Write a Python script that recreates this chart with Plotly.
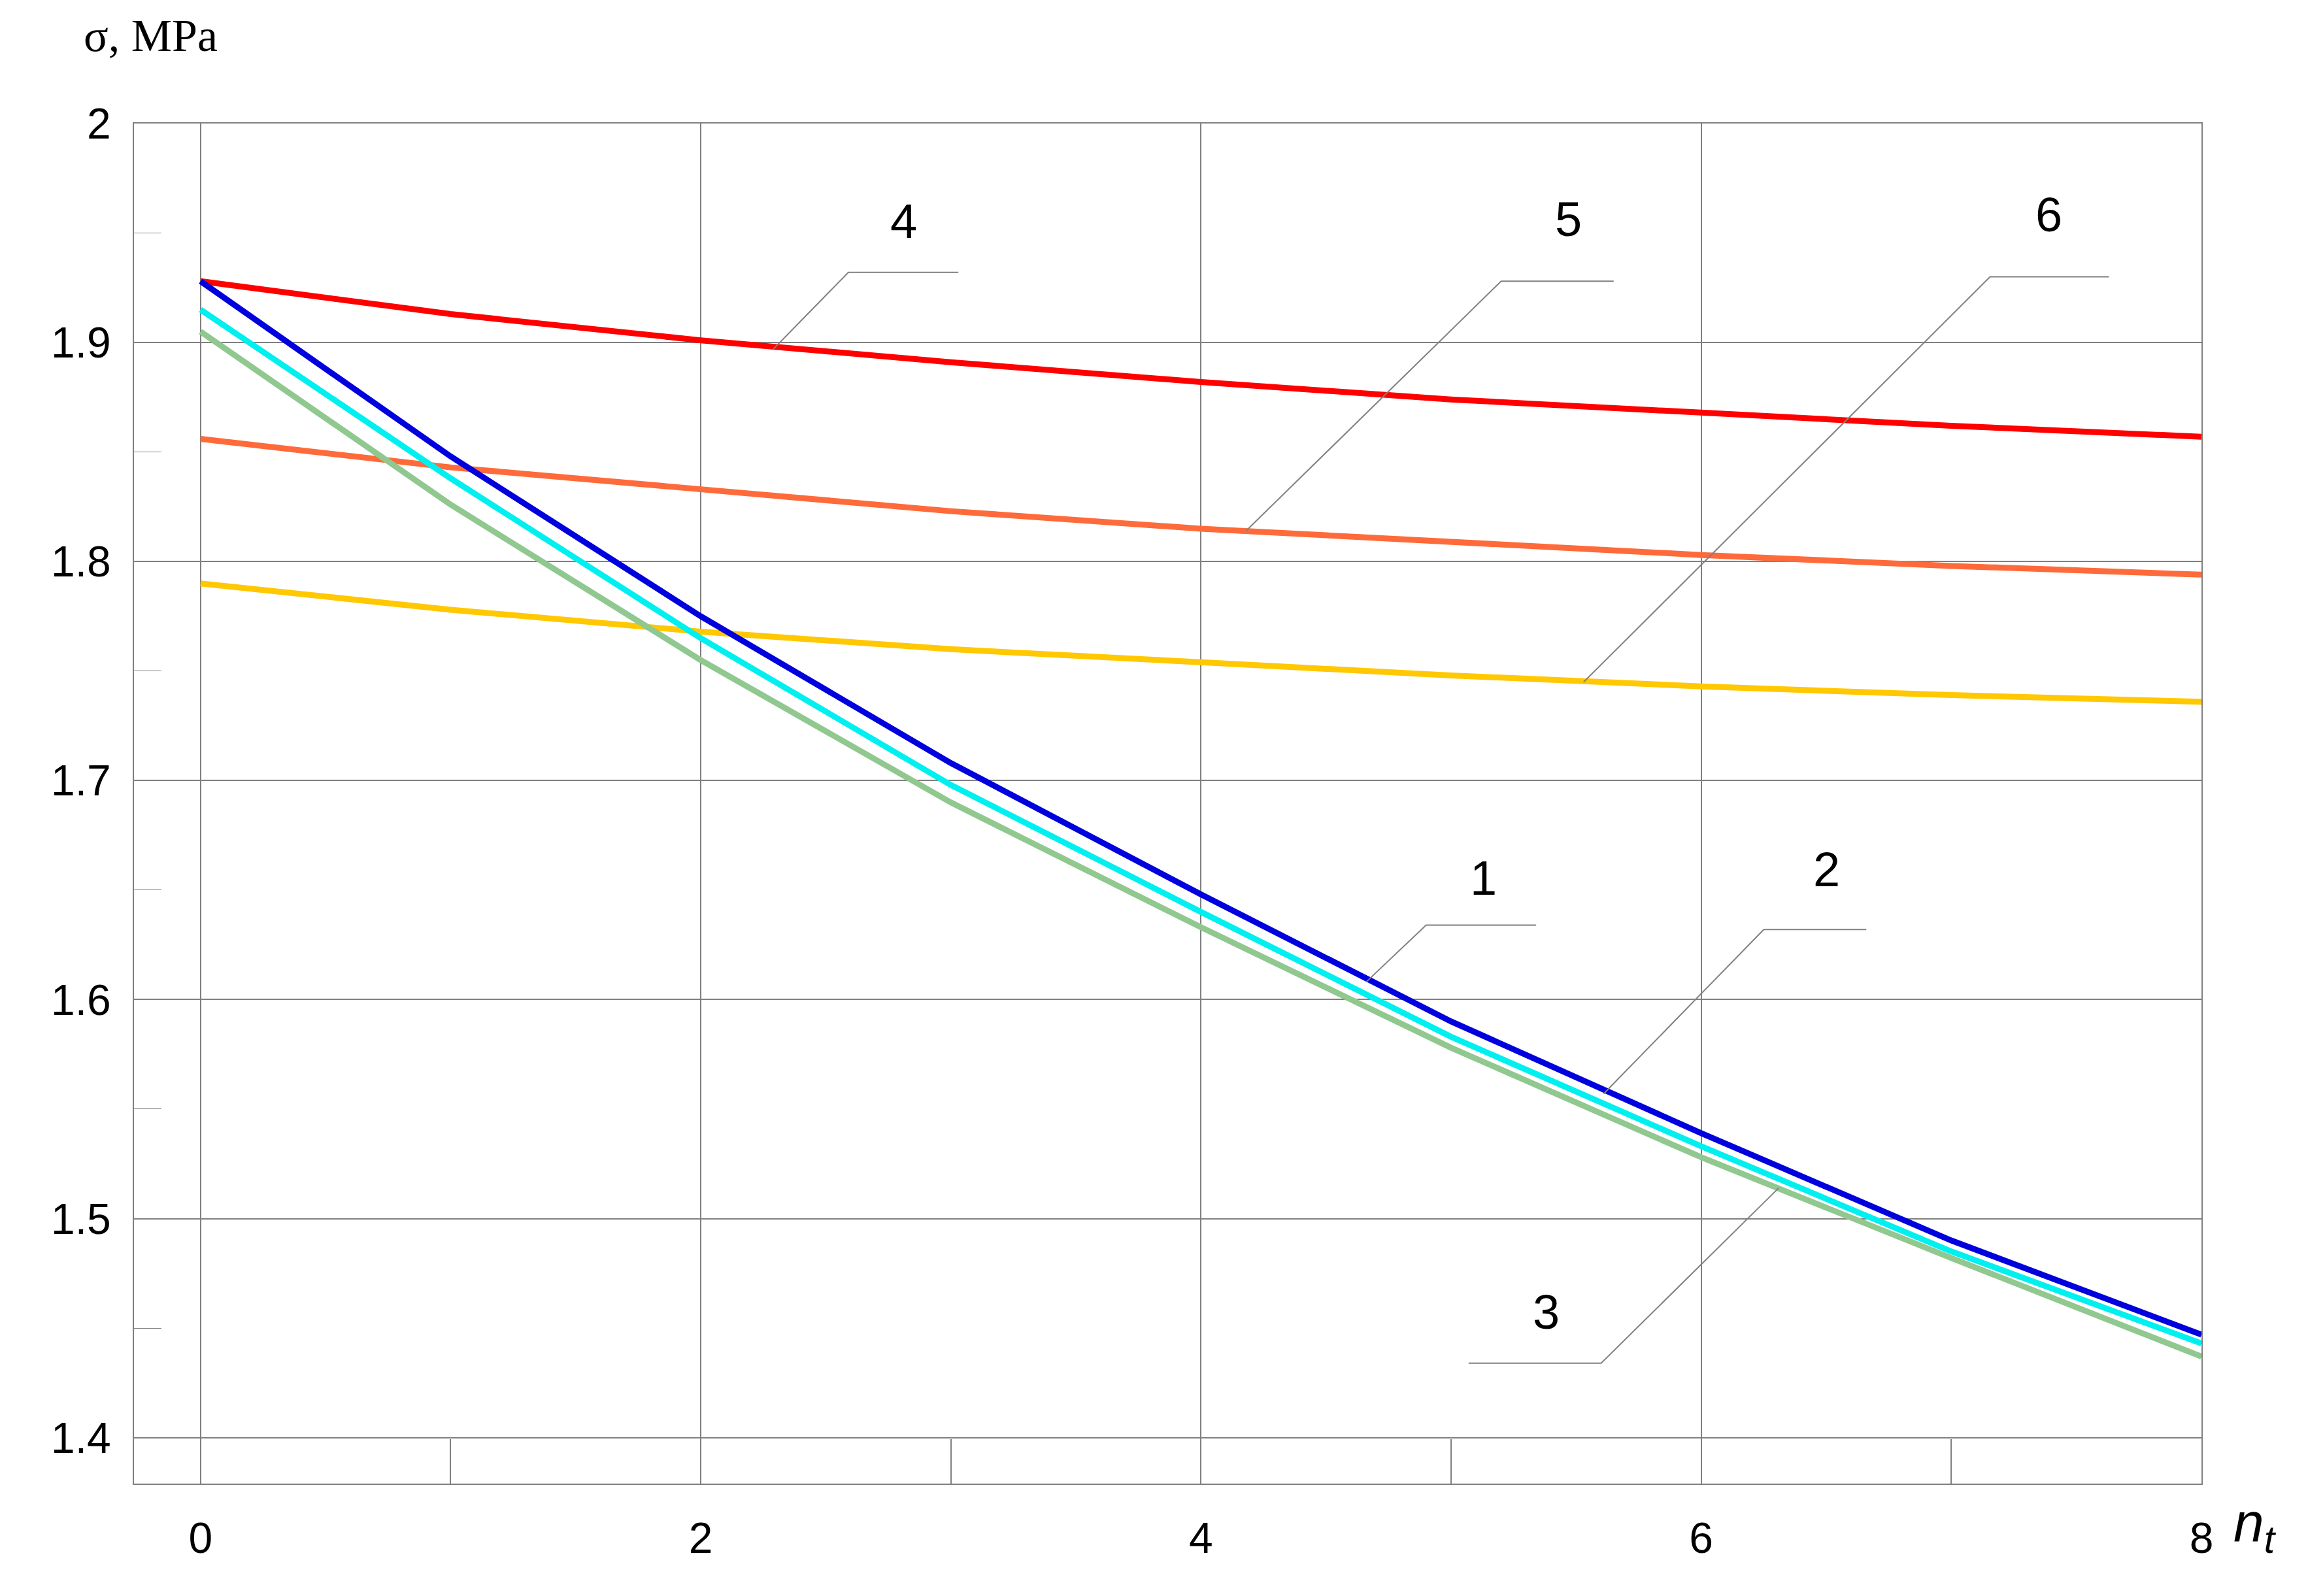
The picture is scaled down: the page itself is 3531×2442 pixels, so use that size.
import plotly.graph_objects as go

n_t = [0, 1, 2, 3, 4, 5, 6, 7, 8]
s1 = [1.928, 1.848, 1.775, 1.708, 1.648, 1.590, 1.539, 1.490, 1.447]
s2 = [1.915, 1.838, 1.765, 1.698, 1.640, 1.583, 1.533, 1.485, 1.443]
s3 = [1.905, 1.826, 1.755, 1.690, 1.633, 1.578, 1.528, 1.482, 1.437]
s4 = [1.928, 1.913, 1.901, 1.891, 1.882, 1.874, 1.868, 1.862, 1.857]
s5 = [1.856, 1.843, 1.833, 1.823, 1.815, 1.809, 1.803, 1.798, 1.794]
s6 = [1.790, 1.778, 1.768, 1.760, 1.754, 1.748, 1.743, 1.739, 1.736]
y_ticks = [1.4, 1.5, 1.6, 1.7, 1.8, 1.9, 2.0]
y_ticktext = ["1.4", "1.5", "1.6", "1.7", "1.8", "1.9", "2"]

series = [(s6, "#FFC800"), (s5, "#FF6A3A"), (s4, "#FF0000"),
          (s3, "#90C890"), (s2, "#00F0F0"), (s1, "#0000DD")]

labels = [
    ("4", (2.29, 1.897), (2.59, 1.932), (3.03, 1.932), (2.81, 1.946)),
    ("5", (4.18, 1.814), (5.20, 1.928), (5.65, 1.928), (5.47, 1.947)),
    ("6", (5.53, 1.745), (7.155, 1.930), (7.63, 1.930), (7.39, 1.949)),
    ("1", (4.66, 1.608), (4.90, 1.634), (5.34, 1.634), (5.13, 1.646)),
    ("2", (5.61, 1.557), (6.25, 1.632), (6.66, 1.632), (6.50, 1.650)),
    ("3", (6.31, 1.514), (5.60, 1.434), (5.07, 1.434), (5.38, 1.448)),
]

fig = go.Figure()
for ys, c in series:
    fig.add_trace(go.Scatter(x=n_t, y=ys, mode="lines", line=dict(color=c, width=9), showlegend=False))
for name, p, e, q, t in labels:
    fig.add_trace(go.Scatter(x=[p[0], e[0], q[0]], y=[p[1], e[1], q[1]], mode="lines",
                             line=dict(color="#808080", width=2), showlegend=False))
    fig.add_annotation(x=t[0], y=t[1], text=name, showarrow=False,
                       font=dict(size=74, color="black"), yanchor="bottom", yshift=-12)

fig.add_annotation(xref="paper", yref="paper", x=-0.025, y=1.045, text="σ, MPa", showarrow=False,
                   xanchor="left", yanchor="bottom", font=dict(size=70, family="Liberation Serif", color="black"))
fig.add_annotation(xref="paper", yref="paper", x=1.015, y=-0.005, text="<i>n</i><sub><i>t</i></sub>",
                   showarrow=False, xanchor="left", yanchor="top", font=dict(size=84, color="black"))

fig.update_layout(
    width=3531, height=2442, plot_bgcolor="white", paper_bgcolor="white",
    margin=dict(l=197, r=171, t=181, b=180),
    font=dict(family="Liberation Sans", size=66, color="black"),
    xaxis=dict(range=[-0.266, 8], tickvals=[0, 2, 4, 6, 8], showgrid=True, gridcolor="#808080", gridwidth=2,
               ticks="inside", ticklen=68, tickcolor="#808080", tickwidth=2, zeroline=False,
               showline=True, linecolor="#808080", linewidth=2, mirror=True,
               minor=dict(tickvals=[1, 3, 5, 7], ticks="inside", ticklen=68, tickcolor="#808080", showgrid=False),
               ticklabelstandoff=25),
    yaxis=dict(range=[1.379, 2.0], tickvals=y_ticks, ticktext=y_ticktext,
               showgrid=True, gridcolor="#808080", gridwidth=2, zeroline=False,
               showline=True, linecolor="#808080", linewidth=2, mirror=True, ticks="",
               minor=dict(tickvals=[1.45, 1.55, 1.65, 1.75, 1.85, 1.95], ticks="inside", ticklen=42,
                          tickcolor="#808080", showgrid=False),
               ticklabelstandoff=20),
)
fig.write_html("out.html")
